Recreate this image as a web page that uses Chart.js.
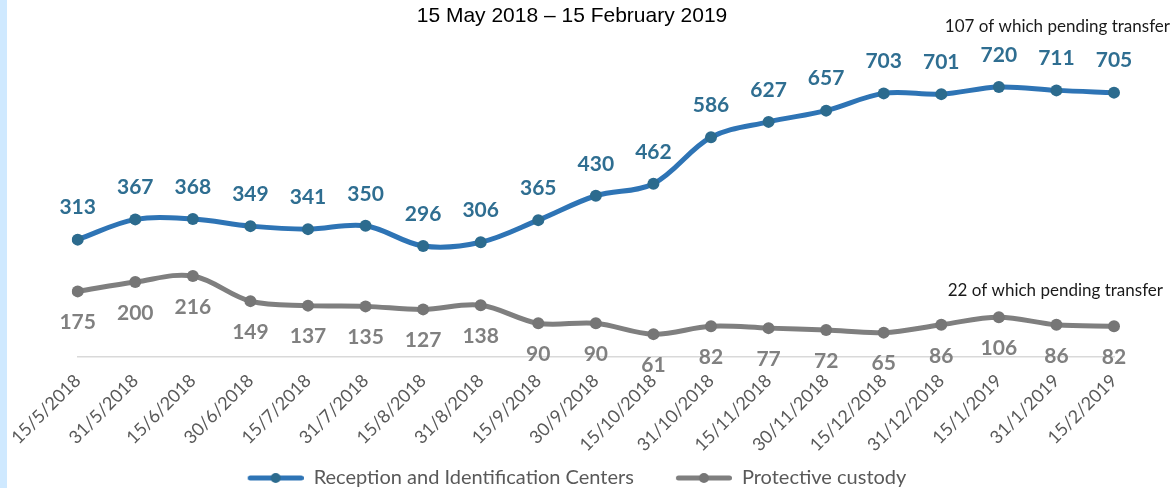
<!DOCTYPE html>
<html>
<head>
<meta charset="utf-8">
<script src="https://cdn.jsdelivr.net/npm/chart.js@4.4.1/dist/chart.umd.min.js"></script>
<style>
    html, body { margin: 0; padding: 0; background: #fff; }
    #wrap { position: relative; width: 1174px; height: 488px; }
    #strip { position: absolute; left: 0; top: 0; width: 7px; height: 488px; background: #cfe9ff; }
</style>
</head>
<body>
<div id="wrap">
    <div id="strip"></div>
    <canvas id="mainChart" width="1174" height="488"></canvas>
</div>
<script>
const dates = ['15/5/2018', '31/5/2018', '15/6/2018', '30/6/2018', '15/7/2018', '31/7/2018',
    '15/8/2018', '31/8/2018', '15/9/2018', '30/9/2018', '15/10/2018', '31/10/2018',
    '15/11/2018', '30/11/2018', '15/12/2018', '31/12/2018', '15/1/2019', '31/1/2019', '15/2/2019'];
const ricValues = [313, 367, 368, 349, 341, 350, 296, 306, 365, 430, 462, 586, 627, 657, 703, 701, 720, 711, 705];
const custodyValues = [175, 200, 216, 149, 137, 135, 127, 138, 90, 90, 61, 82, 77, 72, 65, 86, 106, 86, 82];
const seriesNames = ['Reception and Identification Centers', 'Protective custody'];
const subtitle = '15 May 2018 \u2013 15 February 2019';
const notes = ['107 of which pending transfer', '22 of which pending transfer'];

// little line-with-dot sample for the legend (blank space on the left acts as item gap)
function legendSample(lineColor, dotColor) {
    const c = document.createElement('canvas');
    c.width = 96;
    c.height = 14;
    const g = c.getContext('2d');
    g.strokeStyle = lineColor;
    g.lineWidth = 5;
    g.lineCap = 'round';
    g.beginPath();
    g.moveTo(42.5, 7);
    g.lineTo(93.5, 7);
    g.stroke();
    g.fillStyle = dotColor;
    g.beginPath();
    g.arc(68, 7, 5, 0, Math.PI * 2);
    g.fill();
    return c;
}

const textPlugin = {
    id: 'texts',
    afterDatasetsDraw(chart) {
        const ctx = chart.ctx;
        ctx.save();
        ctx.textAlign = 'center';
        ctx.textBaseline = 'middle';
        chart.data.datasets.forEach((dataset, i) => {
            const meta = chart.getDatasetMeta(i);
            ctx.font = 'bold 21px Lato';
            ctx.fillStyle = dataset.labelColor;
            meta.data.forEach((pt, j) => {
                ctx.fillText(dataset.data[j], pt.x, pt.y + dataset.labelOffset);
            });
        });
        ctx.font = '21px "Liberation Sans"';
        ctx.fillStyle = '#000';
        ctx.fillText(subtitle, 572, 16);
        ctx.font = '17px Lato';
        ctx.fillStyle = '#1a1a1a';
        ctx.textAlign = 'right';
        ctx.fillText(notes[0], 1170, 27);
        ctx.fillText(notes[1], 1163, 291);
        ctx.restore();
    }
};

function setupCanvas() {
    const ctx = document.getElementById('mainChart').getContext('2d');
    const samples = [legendSample('#2e74b5', '#2c6b8e'), legendSample('#7f7f7f', '#767676')];
    const data = {
        labels: dates,
        datasets: [
            {
                label: seriesNames[0],
                data: ricValues,
                borderColor: '#2e74b5',
                backgroundColor: '#2c6b8e',
                pointBackgroundColor: '#2c6b8e',
                pointBorderColor: '#2c6b8e',
                labelColor: '#2f6e91',
                labelOffset: -32
            },
            {
                label: seriesNames[1],
                data: custodyValues,
                borderColor: '#7f7f7f',
                backgroundColor: '#767676',
                pointBackgroundColor: '#767676',
                pointBorderColor: '#767676',
                labelColor: '#808080',
                labelOffset: 31
            }
        ]
    };
    const config = {
        type: 'line',
        data: data,
        options: {
            responsive: false,
            animation: false,
            layout: { padding: { left: 0, right: 60, top: 57, bottom: -10 } },
            elements: {
                line: { borderWidth: 5, tension: 0.35, borderCapStyle: 'round' },
                point: { radius: 6, borderWidth: 0, hoverRadius: 6 }
            },
            scales: {
                x: {
                    offset: false,
                    grid: { display: false, drawTicks: false },
                    border: { display: true, color: '#d9d9d9', width: 1.5 },
                    ticks: {
                        autoSkip: false,
                        minRotation: 45,
                        maxRotation: 45,
                        padding: 13,
                        color: '#595959',
                        font: { family: 'Lato', size: 18 }
                    },
                    afterFit(scale) {
                        scale.height = 109;
                        scale.paddingLeft = 0;
                        scale.paddingRight = 0;
                    }
                },
                y: {
                    min: 0,
                    max: 800,
                    grid: { display: false },
                    border: { display: false },
                    ticks: { display: false },
                    afterFit(scale) { scale.width = 77.7; }
                }
            },
            plugins: {
                legend: {
                    position: 'bottom',
                    labels: {
                        usePointStyle: true,
                        pointStyleWidth: 96,
                        padding: 2,
                        color: '#595959',
                        font: { family: 'Lato', size: 20 },
                        generateLabels(chart) {
                            const items = Chart.defaults.plugins.legend.labels.generateLabels(chart);
                            items.forEach((item, i) => { item.pointStyle = samples[i]; });
                            return items;
                        }
                    }
                },
                tooltip: { enabled: false }
            }
        },
        plugins: [textPlugin]
    };
    return new Chart(ctx, config);
}

const mainChart = setupCanvas();
</script>
</body>
</html>
